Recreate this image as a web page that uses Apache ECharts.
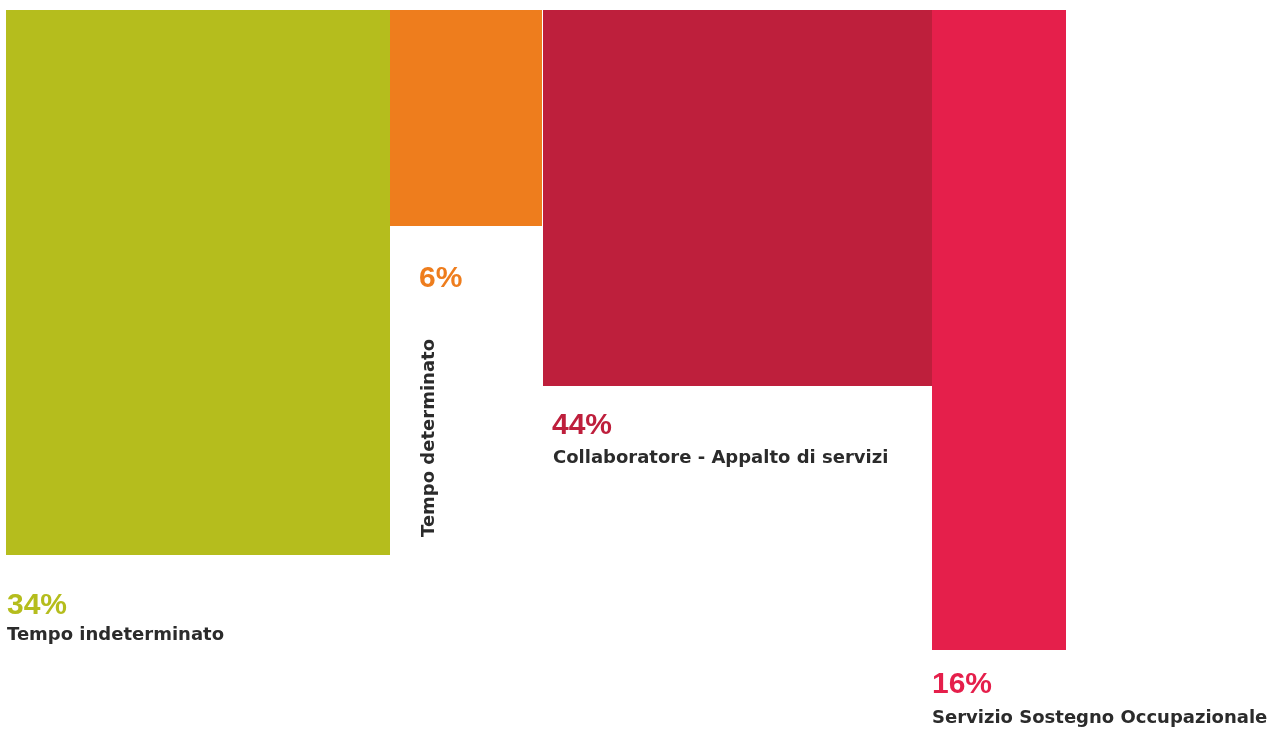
<!DOCTYPE html>
<html lang="it">
<head>
<meta charset="utf-8">
<title>Tipologia contrattuale</title>
<script src="https://cdn.jsdelivr.net/npm/echarts@6/dist/echarts.min.js"></script>
<style>
  html, body { margin: 0; padding: 0; background: #ffffff; }
  #chart { width: 1279px; height: 731px; }
</style>
</head>
<body>
<div id="chart"></div>
<script>
// Categorie contrattuali e relative quote
const categorie = [
  'Tempo indeterminato',
  'Tempo determinato',
  'Collaboratore - Appalto di servizi',
  'Servizio Sostegno Occupazionale'
];
const percentuali = [34, 6, 44, 16];
// Dimensioni dei blocchi in unità d'asse (larghezza orizzontale, lunghezza verso il basso)
const larghezze = [384, 152, 389, 134];
const altezze = [545, 216, 376, 640];

// Stile
const colori = ['#B5BD1D', '#EE7D1D', '#BE1F3C', '#E51F4B'];
const coloreTesto = '#2B2B2B';
const fontPct = 'bold 30px "Liberation Sans", Arial, sans-serif';
const fontNome = 'bold 18px "DejaVu Sans", sans-serif';

// Spazio prima di ciascun blocco e posizione delle etichette rispetto all'angolo in basso a sinistra
const spazi = [0, 0, 1, 0];
const etichette = [
  { pct: [1, 50.5], nome: [1, 80.5] },
  { pct: [29, 52.5], nome: [39, 311], verticale: true },
  { pct: [9, 39.5], nome: [10, 72] },
  { pct: [0, 34.5], nome: [0, 68] }
];

// Costruzione dei dati: [inizio, fine, altezza, indice]
let cursore = 0;
const dati = categorie.map((c, i) => {
  cursore += spazi[i];
  const inizio = cursore;
  cursore += larghezze[i];
  return [inizio, cursore, altezze[i], i];
});

function disegna(params, api) {
  const i = api.value(3);
  const a = api.coord([api.value(0), 0]);
  const b = api.coord([api.value(1), api.value(2)]);
  const L = etichette[i];
  const sx = a[0], basso = b[1];
  const figli = [
    {
      type: 'rect',
      shape: { x: a[0], y: a[1], width: b[0] - a[0], height: b[1] - a[1] },
      style: { fill: colori[i] }
    },
    {
      type: 'text',
      x: sx + L.pct[0], y: basso + L.pct[1],
      style: {
        text: percentuali[i] + '%', fill: colori[i], font: fontPct,
        align: 'left', verticalAlign: 'middle'
      }
    },
    {
      type: 'text',
      x: sx + L.nome[0], y: basso + L.nome[1],
      rotation: L.verticale ? Math.PI / 2 : 0,
      style: {
        text: categorie[i], fill: coloreTesto, font: fontNome,
        align: 'left', verticalAlign: 'middle'
      }
    }
  ];
  return { type: 'group', children: figli };
}

const chart = echarts.init(document.getElementById('chart'), null, { renderer: 'canvas' });
chart.setOption({
  animation: false,
  backgroundColor: '#ffffff',
  grid: { left: 6, top: 10, right: 0, bottom: 0 },
  xAxis: { type: 'value', min: 0, max: 1273, show: false },
  yAxis: { type: 'value', min: 0, max: 721, inverse: true, show: false },
  series: [{
    type: 'custom',
    renderItem: disegna,
    encode: { x: [0, 1], y: 2 },
    data: dati,
    clip: false,
    silent: true
  }]
});
</script>
</body>
</html>
